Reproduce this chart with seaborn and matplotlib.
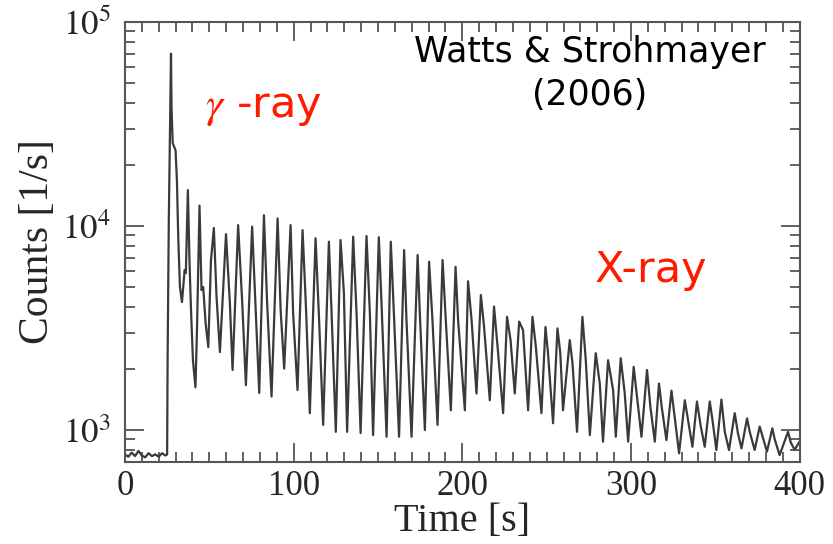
import numpy as np
import pandas as pd
import matplotlib
matplotlib.use("Agg")
import matplotlib.pyplot as plt
import seaborn as sns
from matplotlib.ticker import MultipleLocator, LogLocator, NullFormatter

# ---- data ----
time_s = [0, 2, 4, 6, 8, 10, 12, 14, 16, 18, 20, 22, 24, 25.0,
          25.3, 26.0, 27.3, 27.6, 28.3, 30.0, 30.8, 31.6, 32.6, 33.8, 35.4, 36.1,
          37.3, 38.3, 39.1, 40.3, 41.8, 42.7,
          44.2, 45.4, 46.4, 47.8, 49.4, 51.0,
          52.7, 54.3, 56.3,
          59.9, 62.2, 63.8,
          67.1, 69.5, 71.7,
          75.4, 77.0, 79.6,
          82.4, 84.3, 86.9,
          90.5, 92.3, 94.4,
          98.2, 99.7, 102.3,
          105.3, 107.3, 109.6,
          113.0, 115.1, 117.5,
          120.9, 122.5, 125.0,
          127.8, 129.8, 131.7,
          135.3, 137.3, 139.7,
          143.2, 145.2, 147.1,
          150.5, 152.1, 155.1,
          157.6, 159.6, 162.5,
          165.5, 166.9, 169.9,
          173.5, 174.8, 177.8,
          180.3, 182.3, 185.3,
          188.3, 190.2, 193.2,
          196.0, 197.5, 201.5,
          203.4, 205.5, 208.4,
          211.0, 212.9, 216.3,
          218.8, 220.9, 224.2,
          226.5, 228.6, 231.1,
          233.7, 236.0, 239.0,
          241.6, 243.6, 246.9,
          249.3, 250.8, 253.8,
          256.4, 258.1, 259.7,
          263.7, 265.3, 268.0,
          271.2, 273.2, 275.6,
          279.1, 281.5, 283.4,
          286.4, 289.4, 291.0,
          293.9, 296.3, 298.3,
          301.6, 303.8, 306.2,
          309.5, 311.5, 314.1,
          316.6, 318.2, 321.0,
          324.0, 325.9, 328.5,
          331.9, 333.8, 336.4,
          339.1, 341.2, 343.7,
          346.7, 348.3, 350.6,
          353.6, 355.6, 358.1,
          361.5, 363.4, 365.5,
          368.8, 370.4, 373.3,
          376.3, 378.3, 380.6,
          383.8, 385.2, 388.1,
          393.1, 394.7, 397.0, 400.0]

counts = [760, 740, 775, 745, 790, 750, 735, 770, 745, 760, 740, 770, 750, 760,
          2300, 10700, 70000, 38500, 25500, 23500, 16800, 8800, 5020, 4240, 6090, 5880,
          15000, 6570, 4000, 2200, 1620, 3090,
          12600, 4850, 5020, 3350, 2550, 6800,
          9780, 4490, 2410,
          9120, 4190, 1970,
          10100, 4250, 1660,
          9930, 4850, 1520,
          11300, 4180, 1460,
          10900, 3870, 2000,
          10100, 3740, 1570,
          9550, 4020, 1210,
          8710, 3460, 1060,
          8380, 3740, 980,
          8540, 4690, 980,
          8870, 3740, 967,
          8930, 3730, 945,
          8810, 4180, 927,
          8380, 3460, 927,
          7620, 3460, 927,
          7210, 3740, 1000,
          6680, 3460, 1060,
          6810, 3460, 1250,
          6310, 3460, 1250,
          5360, 3460, 1510,
          4590, 3200, 1400,
          4030, 2560, 1210,
          3590, 2760, 1510,
          3400, 3090, 1250,
          3590, 2560, 1210,
          3200, 2380, 1080,
          3150, 2380, 1250,
          2760, 2130, 980,
          3590, 2200, 945,
          2380, 1690, 877,
          2200, 1570, 927,
          2250, 1510, 877,
          2040, 1400, 927,
          1970, 1300, 877,
          1690, 1300, 893,
          1560, 1160, 769,
          1400, 1120, 828,
          1380, 1060, 828,
          1380, 1120, 798,
          1410, 980, 798,
          1210, 963, 813,
          1140, 980, 798,
          1040, 910, 783,
          1020, 900, 754,
          980, 870, 800, 880]

x_ticks = [0, 100, 200, 300, 400]
y_ticks = [1e3, 1e4, 1e5]

df = pd.DataFrame({"Time [s]": time_s, "Counts [1/s]": counts})

sns.set_theme(style="ticks")
plt.rcParams["font.family"] = ["Liberation Serif", "DejaVu Serif"]
plt.rcParams["mathtext.fontset"] = "stix"

fig = plt.figure(figsize=(8.33, 5.44), dpi=100)
ax = fig.add_axes([0.150, 0.1507, 0.810, 0.8089])

sns.lineplot(data=df, x="Time [s]", y="Counts [1/s]", ax=ax, estimator=None,
             sort=False, color="#3a3a3a", linewidth=1.6)

ax.set_yscale("log")
ax.set_xlim(0, 400)
ax.set_ylim(697, 1e5)
ax.set_xticks(x_ticks)
ax.set_xticklabels([str(v) for v in x_ticks])
ax.xaxis.set_minor_locator(MultipleLocator(10))
ax.set_yticks(y_ticks)
ax.set_yticklabels([r"$10^{3}$", r"$10^{4}$", r"$10^{5}$"])
ax.yaxis.set_minor_locator(LogLocator(base=10, subs=np.arange(2, 10)))
ax.yaxis.set_minor_formatter(NullFormatter())

for s in ax.spines.values():
    s.set_visible(True)
    s.set_color("#555555")
    s.set_linewidth(1.5)

ax.tick_params(which="both", direction="in", top=True, right=True,
               color="#555555", width=1.3)
ax.tick_params(which="major", length=14, labelsize=25)
ax.tick_params(axis="y", which="major", pad=10)
ax.tick_params(axis="x", which="major", pad=6)
ax.tick_params(which="minor", length=7)

ax.set_xlabel("Time [s]", fontsize=29, labelpad=0)
ax.set_ylabel("Counts [1/s]", fontsize=30, labelpad=4)

ax.text(0.689, 0.932, "Watts & Strohmayer", transform=ax.transAxes,
        ha="center", va="center", fontsize=25, color="black", family="DejaVu Sans")
ax.text(0.689, 0.834, "(2006)", transform=ax.transAxes,
        ha="center", va="center", fontsize=25, color="black", family="DejaVu Sans")
ax.text(0.118, 0.807, r"$\gamma$ -ray", transform=ax.transAxes,
        ha="left", va="center", fontsize=31, color="#ff1a00", family="DejaVu Sans")
ax.text(0.696, 0.436, "X-ray", transform=ax.transAxes,
        ha="left", va="center", fontsize=31, color="#ff1a00", family="DejaVu Sans")

fig.savefig("out.png", dpi=100)
